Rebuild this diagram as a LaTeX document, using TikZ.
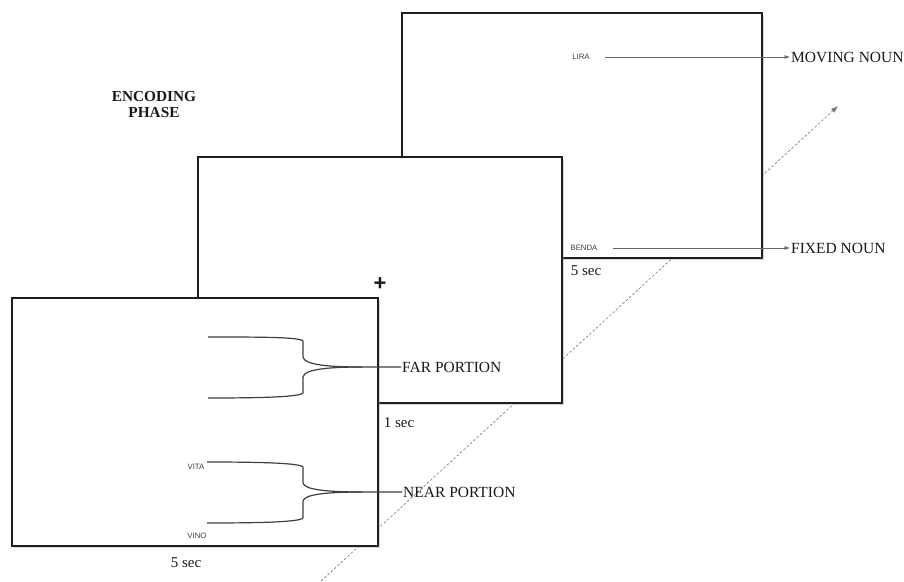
\documentclass[tikz,border=0pt]{standalone}
\usepackage{fontspec}
\setmainfont{Liberation Serif}
\newfontfamily\smallsans{Liberation Sans}
\usetikzlibrary{arrows.meta,shadows}
\tikzset{
  screen/.style={draw=black!88, line width=2.3pt, fill=white, inner sep=0pt,
    drop shadow={shadow xshift=2pt, shadow yshift=-2pt, fill=black!35, opacity=0.45}},
  lbl/.style={font=\fontsize{15.5}{17}\selectfont, text=black!90, inner sep=1pt},
  word/.style={font=\smallsans\fontsize{7.8}{9}\selectfont, text=black!75, inner sep=0pt},
  timelbl/.style={font=\fontsize{15}{17}\selectfont, text=black!90, inner sep=0pt},
  dashline/.style={draw=black!55, line width=0.6pt, dash pattern=on 2.5pt off 2pt, -{Latex[length=7pt,width=5pt]}},
  pointer/.style={draw=black!60, line width=0.7pt, -{Latex[length=5.5pt,width=4pt]}},
  brace/.style={draw=black!75, line width=1.2pt, line join=round},
}
\begin{document}
\begin{tikzpicture}[x=1pt,y=-1pt]
\useasboundingbox (0,0) rectangle (904,581);
% diagonal time axis (behind the screens)
\coordinate (d0) at (321,581);
\coordinate (d1) at (838,106);
\draw[dashline] (d0) -- (d1);
% screens, back to front
\node[screen, minimum width=360pt, minimum height=245pt] (s3) at (582,135.5) {};
\node[screen, minimum width=364pt, minimum height=246pt] (s2) at (380,280) {};
\node[screen, minimum width=366pt, minimum height=248pt] (s1) at (195,422) {};
% title
\node[font=\bfseries\fontsize{15.3}{16}\selectfont, text=black!90, align=center] (title) at (154,105) {ENCODING\\PHASE};
% fixation cross
\node[font=\smallsans\bfseries\fontsize{22}{22}\selectfont, text=black!90, inner sep=0pt] (cross) at (380,284) {+};
% time labels
\node[timelbl] (t1) at (186,563) {5 sec};
\node[timelbl] (t2) at (399,423) {1 sec};
\node[timelbl] (t3) at (586,271) {5 sec};
% words
\node[word] (lira) at (581,57) {LIRA};
\node[word] (benda) at (584,248) {BENDA};
\node[word] (vita) at (196,467) {VITA};
\node[word] (vino) at (197,536) {VINO};
% labels
\node[lbl, anchor=west] (moving) at (790,57) {MOVING NOUN};
\node[lbl, anchor=west] (fixed) at (790,248) {FIXED NOUN};
\node[lbl, anchor=west] (far) at (401,367) {FAR PORTION};
\node[lbl, anchor=west] (near) at (402,492) {NEAR PORTION};
% pointers
\coordinate (la) at (605,57);
\coordinate (ba) at (613,248);
\draw[pointer] (la) -- (moving.west);
\draw[pointer] (ba) -- (fixed.west);
% far bracket
\coordinate (fa1) at (208,337);
\coordinate (fa2) at (208,398);
\coordinate (fm) at (362,367);
\draw[brace] (fa1) .. controls (260,337) and (300,337) .. (303,341) -- (303,357)
  .. controls (304,365) and (330,367) .. (fm) -- (far.west);
\draw[brace] (fa2) .. controls (260,398) and (300,397) .. (303,393) -- (303,377)
  .. controls (304,369) and (330,367) .. (fm);
% near bracket
\coordinate (na1) at (207,462);
\coordinate (na2) at (207,523);
\coordinate (nm) at (362,492);
\draw[brace] (na1) .. controls (260,462) and (300,463) .. (303,467) -- (303,483)
  .. controls (304,490) and (330,492) .. (nm) -- (near.west);
\draw[brace] (na2) .. controls (260,523) and (300,522) .. (303,518) -- (303,501)
  .. controls (304,494) and (330,492) .. (nm);
\end{tikzpicture}
\end{document}
